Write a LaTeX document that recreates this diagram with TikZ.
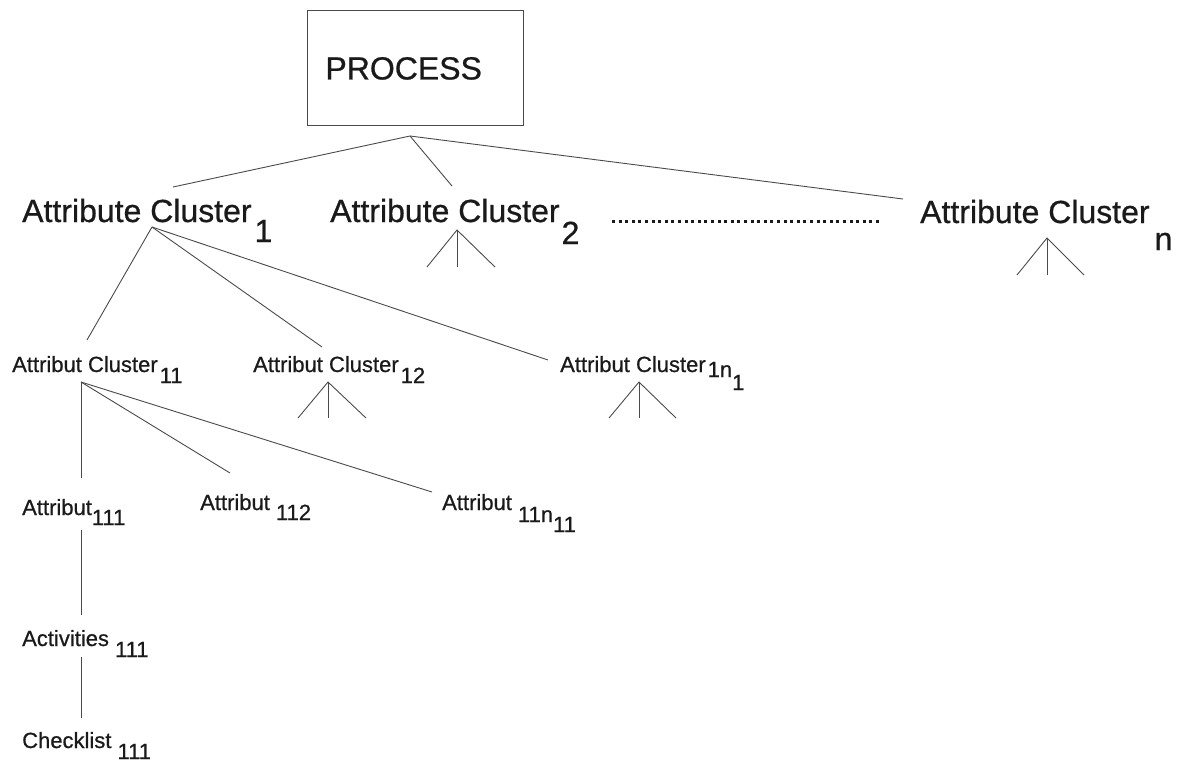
\documentclass[tikz,border=0pt]{standalone}
\usepackage{fontspec}
\setmainfont{Liberation Sans}[RawFeature={embolden=0.7}]
\usetikzlibrary{calc}

\definecolor{ink}{HTML}{1A1A1A}
\definecolor{wire}{HTML}{4A4A4A}

% index set as a lowered figure of the same size
\newcommand\lowered[2]{\raisebox{-#1pt}{#2}}

\tikzset{
  lbl/.style={anchor=base west, inner sep=0pt, text=ink},
  big/.style={lbl, font=\fontsize{32}{36}\selectfont},
  mid/.style={lbl, font=\fontsize{22}{26}\selectfont},
  link/.style={draw=wire, line width=0.9pt},
  boxed/.style={draw=wire, line width=0.9pt, anchor=north west, text=ink,
    font=\fontsize{32}{36}\selectfont, text width=180pt, inner xsep=18pt,
    inner ysep=0pt, minimum height=115pt, align=left,
    text height=23pt, text depth=0pt},
  ellipsis/.style={draw=ink, line width=3pt, dash pattern=on 3pt off 3.6pt},
}

\begin{document}
\begin{tikzpicture}[x=1pt, y=-1pt]
\useasboundingbox[fill=white] (0,0) rectangle (1184,763);

% ---- root ----
\node[boxed] (process) at (307,10) {PROCESS};

% ---- first level ----
\node[big] (ac1) at (22,222) {Attribute Cluster\hspace{3pt}\lowered{20}{1}};
\node[big] (ac2) at (330,222) {Attribute Cluster\hspace{2pt}\lowered{22}{2}};
\node[big] (acn) at (920,223) {Attribute Cluster\hspace{5pt}\lowered{27}{n}};

% ---- second level ----
\node[mid] (ac11) at (12,372) {Attribut Cluster\hspace{2pt}\lowered{11}{11}};
\node[mid] (ac12) at (253,372) {Attribut Cluster\hspace{2pt}\lowered{11}{12}};
\node[mid] (ac1n) at (560,372) {Attribut Cluster\hspace{2pt}\lowered{5}{1n\lowered{13}{1}}};

% ---- third level ----
\node[mid] (a111) at (22,515) {Attribut\lowered{10}{111}};
\node[mid] (a112) at (200,510) {Attribut \lowered{10}{112}};
\node[mid] (a11n) at (442,510) {Attribut \lowered{12}{11n\lowered{10}{11}}};

% ---- fourth and fifth level ----
\node[mid] (act) at (22,646) {Activities \lowered{11}{111}};
\node[mid] (chk) at (22,748) {Checklist \lowered{11}{111}};

% ---- connector ends ----
\coordinate (p-fan) at (410,136);
\coordinate (ac1-in) at (173,187);
\coordinate (ac2-in) at (452,186);
\coordinate (acn-in) at (903,199);

\coordinate (ac1-fan) at (152,227);
\coordinate (ac11-in) at (87,340);
\coordinate (ac12-in) at (322,347);
\coordinate (ac1n-in) at (548,360);

\coordinate (ac11-fan) at (81,382);
\coordinate (a111-in) at (81,478);
\coordinate (a112-in) at (230,473);
\coordinate (a11n-in) at (432,492);

\coordinate (a111-out) at (81,530);
\coordinate (act-in) at (81,615);
\coordinate (act-out) at (81,657);
\coordinate (chk-in) at (81,718);

% open branches
\coordinate (ac2-fan) at (457,230);
\coordinate (ac2-l) at (427,267);
\coordinate (ac2-m) at (457,267);
\coordinate (ac2-r) at (495,267);

\coordinate (acn-fan) at (1047,238);
\coordinate (acn-l) at (1017,275);
\coordinate (acn-m) at (1047,275);
\coordinate (acn-r) at (1084,275);

\coordinate (ac12-fan) at (328,382);
\coordinate (ac12-l) at (298,418);
\coordinate (ac12-m) at (328,418);
\coordinate (ac12-r) at (366,418);

\coordinate (ac1n-fan) at (639,382);
\coordinate (ac1n-l) at (609,418);
\coordinate (ac1n-m) at (639,418);
\coordinate (ac1n-r) at (676,418);

% ---- connectors ----
\draw[link] (ac1-in) -- (p-fan) -- (ac2-in);
\draw[link] (p-fan) -- (acn-in);

\draw[link] (ac1-fan) -- (ac11-in);
\draw[link] (ac1-fan) -- (ac12-in);
\draw[link] (ac1-fan) -- (ac1n-in);

\draw[link] (ac11-fan) -- (a111-in);
\draw[link] (ac11-fan) -- (a112-in);
\draw[link] (ac11-fan) -- (a11n-in);

\draw[link] (a111-out) -- (act-in);
\draw[link] (act-out) -- (chk-in);

\foreach \b in {ac2, acn, ac12, ac1n}{
  \draw[link] (\b-l) -- (\b-fan) -- (\b-r);
  \draw[link] (\b-fan) -- (\b-m);
}

% ---- ellipsis between the first-level clusters ----
\draw[ellipsis] (612,221) -- (881,221);
\end{tikzpicture}
\end{document}
